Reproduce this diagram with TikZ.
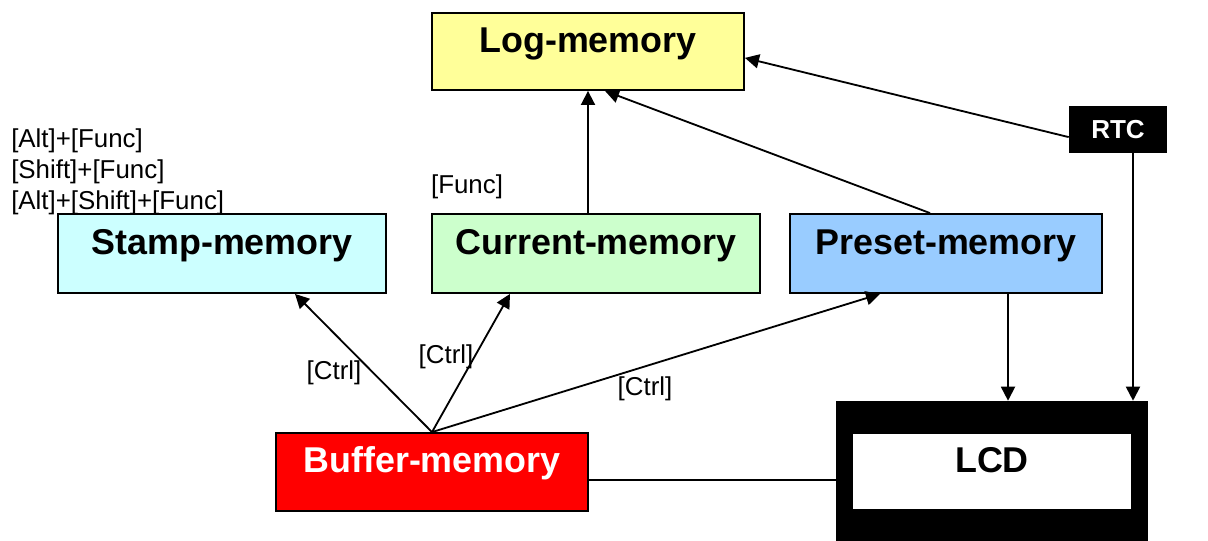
\documentclass[tikz,border=0pt]{standalone}
\usepackage{fontspec}
\setmainfont{Liberation Sans}
\usepackage{xcolor}
\usetikzlibrary{arrows.meta}

\definecolor{logcol}{HTML}{FFFF99}
\definecolor{stampcol}{HTML}{CCFFFF}
\definecolor{currentcol}{HTML}{CCFFCC}
\definecolor{presetcol}{HTML}{99CCFF}

\tikzset{
  membox/.style={draw=black, line width=1.3pt, inner sep=0pt,
    font=\fontsize{25.5}{28}\selectfont\bfseries,
    text height=18pt, text depth=17pt},
  keytext/.style={font=\fontsize{18.4}{22}\selectfont, inner sep=0pt},
  arr/.style={line width=1.3pt, -{Triangle[length=10pt, width=10pt]}}
}

\begin{document}
\begin{tikzpicture}[x=0.025cm, y=-0.025cm]
        \useasboundingbox (0,0) rectangle (1208,540);

        % Blocchi di memoria
        \node[membox, fill=logcol, minimum width=7.8cm, minimum height=1.925cm] (log) at (588,51.5) {Log-memory};
        \node[membox, fill=stampcol, minimum width=8.2cm, minimum height=1.975cm] (stamp) at (222,253.5) {Stamp-memory};
        \node[membox, fill=currentcol, minimum width=8.2cm, minimum height=1.975cm] (current) at (596,253.5) {Current-memory};
        \node[membox, fill=presetcol, minimum width=7.8cm, minimum height=1.975cm] (preset) at (946,253.5) {Preset-memory};
        \node[membox, fill=red, text=white, minimum width=7.8cm, minimum height=1.95cm] (buffer) at (432,472) {Buffer-memory};

        % Display LCD
        \node[fill=black, inner sep=0pt, minimum width=7.8cm, minimum height=3.55cm] (lcdframe) at (992,472) {};
        \node[membox, draw=none, fill=white, minimum width=6.95cm, minimum height=1.875cm] (lcd) at (992,471.5) {LCD};

        % Orologio
        \node[fill=black, text=white, inner sep=0pt, minimum width=2.45cm, minimum height=1.175cm,
              font=\fontsize{18.5}{20}\selectfont\bfseries, text height=13.5pt, text depth=0pt] (rtc) at (1118,129.5) {RTC};

        % Frecce verso Log-memory
        \draw[arr] (log.south |- current.north) -- (log.south);
        \draw[arr] ([xshift=-0.4cm]preset.north) -- ([xshift=0.425cm]log.south);
        \draw[arr] ([yshift=-0.19cm]rtc.west) -- ([yshift=-0.16cm]log.east);

        % Frecce verso LCD
        \coordinate (rtcout) at ([xshift=0.375cm]rtc.south);
        \coordinate (presetout) at ([xshift=1.55cm]preset.south);
        \draw[arr] (rtcout) -- (rtcout |- lcdframe.north);
        \draw[arr] (presetout) -- (presetout |- lcdframe.north);

        % Frecce da Buffer-memory
        \draw[arr] (buffer.north) -- ([xshift=1.825cm]stamp.south);
        \draw[arr] (buffer.north) -- ([xshift=-2.15cm]current.south);
        \draw[arr] (buffer.north) -- ([xshift=-1.65cm]preset.south);
        \draw[line width=1.3pt] ([yshift=-0.2cm]buffer.east) -- ([yshift=-0.2cm]buffer.east -| lcdframe.west);

        % Annotazioni
        \node[keytext] (ctrlstamp) at (334,373) {[Ctrl]};
        \node[keytext] (ctrlcurrent) at (446,357) {[Ctrl]};
        \node[keytext] (ctrlpreset) at (645,389) {[Ctrl]};
        \node[keytext] (func) at (467,187) {[Func]};
        \node[keytext, anchor=west, align=left] (keys) at (11,172) {[Alt]+[Func]\\{}[Shift]+[Func]\\{}[Alt]+[Shift]+[Func]};
    \end{tikzpicture}
\end{document}
